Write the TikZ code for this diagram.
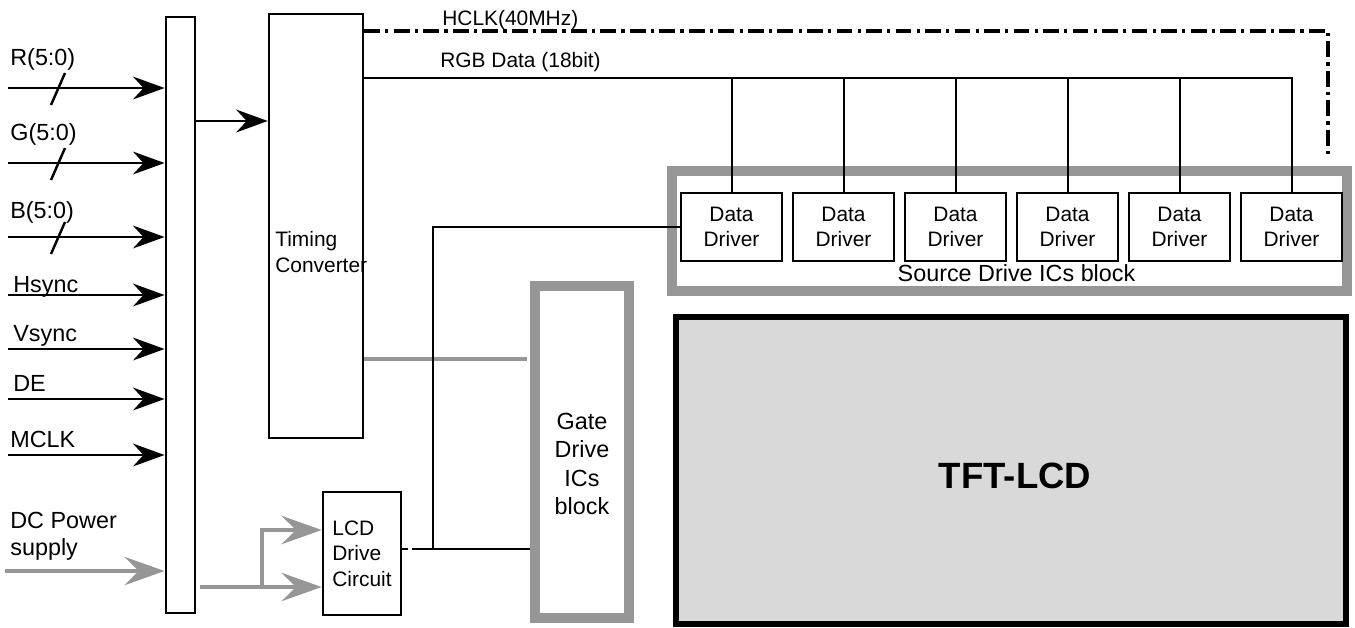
\documentclass[tikz,border=0pt]{standalone}
\usepackage{fontspec}
\setmainfont{Liberation Sans}
\usetikzlibrary{arrows.meta}
\definecolor{gline}{RGB}{150,150,150}
\definecolor{panel}{RGB}{217,217,217}
\newcommand{\smallfs}{\fontsize{11.9}{14.5}\selectfont}
\newcommand{\midfs}{\fontsize{13.3}{15.3}\selectfont}

\begin{document}
\begin{tikzpicture}[x=0.02cm, y=-0.02cm,
  box/.style={draw, line width=1.4pt, inner sep=0pt, font=\smallfs, align=center},
  gblock/.style={draw=gline, inner sep=0pt},
  wire/.style={line width=1.15pt},
  sig/.style={line width=1.5pt, -{Stealth[length=18pt, width=13pt, inset=6pt]}},
  parrow/.style={draw=gline, line width=2.8pt, -{Stealth[length=22.7pt, width=16pt, inset=8pt]}},
  lbl/.style={inner sep=0pt, font=\midfs}]
	\useasboundingbox (0,0) rectangle (1355,627);
	\node[box, line width=1.6pt, minimum width=0.58cm, minimum height=11.92cm] (mux) at (180.5,315) {};
	\node[box, minimum width=1.88cm, minimum height=8.48cm] (tc) at (316,226) {};
	\node[lbl, font=\smallfs, anchor=west, align=left] (tctxt) at (275,252) {Timing\\Converter};
	\node[gblock, line width=5.7pt, minimum width=13.51cm, minimum height=2.4cm] (sdb) at (1009.25,231) {};
	\foreach \i in {1,...,6}
		\node[box, line width=1.3pt, minimum width=2.02cm, minimum height=1.36cm] (dd\i) at ({619.5+112*\i},227) {Data\\Driver};
	\node[lbl, anchor=base] (sdtxt) at (1016.5,281) {Source Drive ICs block};
	\node[gblock, line width=6.2pt, minimum width=1.88cm, minimum height=6.64cm] (gdb) at (582,452) {};
	\node[lbl, align=center, font=\fontsize{13.3}{16.2}\selectfont] (gdtxt) at (582,464) {Gate\\Drive\\ICs\\block};
	\node[box, line width=1.5pt, minimum width=1.56cm, minimum height=2.46cm, align=left] (lcd) at (362,553.5) {LCD\\Drive\\Circuit};
	\node[draw, line width=3.4pt, fill=panel, minimum width=13.4cm, minimum height=6.14cm] (tft) at (1011,470.5) {};
	\node[font=\fontsize{20.8}{24}\selectfont\bfseries, inner sep=0pt] (tfttxt) at (1015,476) {TFT-LCD};
	\foreach \y/\x/\b/\t [count=\k] in {88/10/65/R(5:0), 163/10/140/G(5:0), 237/10/218/B(5:0), 295/13/292/Hsync, 349/13/341/Vsync, 399/13/391/DE, 455/10/447/MCLK}
	{
		\coordinate (in\k) at (8,\y);
		\draw[sig] (in\k) -- (in\k -| mux.west);
		\node[lbl, anchor=base west] (lb\k) at (\x,\b) {\t};
	}
	\foreach \y in {88,163,237}
		\draw[line width=1.4pt] (51,{\y+17}) -- (65,{\y-15});
	\coordinate (mt) at (197,121);
	\draw[sig] (mux.east |- mt) -- (tc.west |- mt);
	\coordinate (hclk) at (363,31);
	\coordinate (hclkend) at (1328,157);
	\draw[line width=1.8pt, dash pattern=on 9pt off 3pt on 1.8pt off 3pt] (tc.east |- hclk) -| (hclkend);
	\node[lbl, font=\smallfs, anchor=base west] (hclktxt) at (442,25) {HCLK(40MHz)};
	\coordinate (rgb) at (363,78);
	\draw[wire] (tc.east |- rgb) -| (dd6.north);
	\foreach \i in {1,...,5}
		\draw[wire] (dd\i.north) -- (dd\i.north |- rgb);
	\node[lbl, font=\smallfs, anchor=base west] (rgbtxt) at (440,67) {RGB Data (18bit)};
	\coordinate (gl) at (363,359);
	\draw[draw=gline, line width=2.8pt, shorten >=1.5pt] (tc.east |- gl) -- (gdb.west |- gl);
	\coordinate (jb) at (433,549);
	\draw[wire] (dd1.west) -| (jb);
	\draw[wire, dash pattern=on 3.4pt off 2.3pt on 100pt] (lcd.east |- jb) -- (gdb.west |- jb);
	\node[lbl, anchor=west, align=left] (dctxt) at (10,536) {DC Power\\supply};
	\coordinate (pw) at (5,571);
	\draw[parrow] (pw) -- (mux.west |- pw);
	\coordinate (p1) at (200,587);
	\draw[parrow] (p1) -- (lcd.west |- p1);
	\coordinate (pb) at (262,530);
	\draw[parrow] (pb |- p1) |- (lcd.west |- pb);
\end{tikzpicture}
\end{document}
